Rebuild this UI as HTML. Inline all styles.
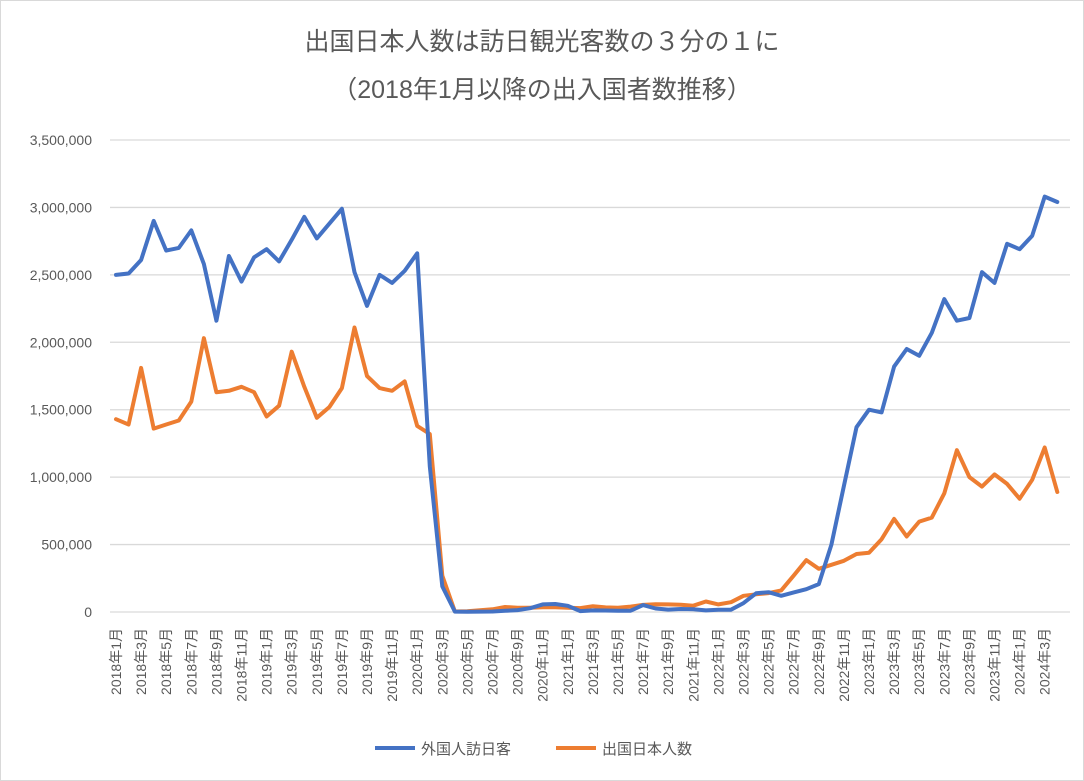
<!DOCTYPE html><html><head><meta charset="utf-8"><style>
body{margin:0;background:#fff}
svg{display:block}
text{font-family:"Liberation Sans","Noto Sans CJK JP",sans-serif;fill:#595959}
</style></head><body>
<svg id="s" width="1084" height="781" xmlns="http://www.w3.org/2000/svg">
<rect x="0.5" y="0.5" width="1083" height="780" fill="#fff" stroke="#d9d9d9"/>
<text x="542" y="50" font-size="25" text-anchor="middle">出国日本人数は訪日観光客数の３分の１に</text>
<text x="542" y="98" font-size="25" text-anchor="middle">（2018年1月以降の出入国者数推移）</text>
<g id="g"></g>
<line x1="375" y1="748" x2="415" y2="748" stroke="#4472c4" stroke-width="4"/>
<text x="421" y="754" font-size="15">外国人訪日客</text>
<line x1="556" y1="748" x2="596" y2="748" stroke="#ed7d31" stroke-width="4"/>
<text x="602" y="754" font-size="15">出国日本人数</text>
</svg>
<script>
var blue=[2.50,2.51,2.61,2.90,2.68,2.70,2.83,2.58,2.16,2.64,2.45,2.63,
2.69,2.60,2.76,2.93,2.77,2.88,2.99,2.52,2.27,2.50,2.44,2.53,
2.66,1.08,0.19,0.003,0.002,0.003,0.004,0.009,0.014,0.028,0.056,0.059,
0.046,0.007,0.012,0.011,0.010,0.010,0.051,0.026,0.018,0.022,0.021,0.012,
0.017,0.017,0.066,0.139,0.147,0.120,0.145,0.169,0.207,0.499,0.935,1.37,
1.50,1.48,1.82,1.95,1.90,2.07,2.32,2.16,2.18,2.52,2.44,2.73,
2.69,2.79,3.08,3.04];
var orange=[1.43,1.39,1.81,1.36,1.39,1.42,1.56,2.03,1.63,1.64,1.67,1.63,
1.45,1.53,1.93,1.67,1.44,1.52,1.66,2.11,1.75,1.66,1.64,1.71,
1.38,1.32,0.27,0.004,0.005,0.013,0.020,0.037,0.031,0.032,0.035,0.035,
0.031,0.029,0.043,0.034,0.031,0.040,0.053,0.057,0.056,0.054,0.047,0.078,
0.056,0.073,0.120,0.131,0.140,0.160,0.270,
0.385,0.32,0.35,0.38,0.43,0.44,0.54,0.69,0.56,0.67,0.70,0.88,1.20,1.00,0.93,1.02,0.95,0.84,0.98,1.22,0.89];
var X=function(i){return 116+i*12.55},Y=function(v){return 612-v*1e6*472/3.5e6};
var h='';
var labs=['0','500,000','1,000,000','1,500,000','2,000,000','2,500,000','3,000,000','3,500,000'];
for(var k=0;k<8;k++){var y=612-k*472/7;h+='<line x1="110" x2="1070" y1="'+y+'" y2="'+y+'" stroke="#d9d9d9" stroke-width="1.3"/>';
h+='<text x="92" y="'+(y+5)+'" font-size="14" text-anchor="end">'+labs[k]+'</text>';}
for(var i=0;i<76;i+=2){var yr=2018+Math.floor(i/12),m=i%12+1,x=X(i)+5;
h+='<text transform="translate('+x+',628) rotate(-90)" font-size="14" text-anchor="end">'+yr+'年'+m+'月</text>';}
function pl(d,c){var p=d.map(function(v,i){return X(i).toFixed(1)+','+Y(v).toFixed(1)}).join(' ');
return '<polyline points="'+p+'" fill="none" stroke="'+c+'" stroke-width="4" stroke-linejoin="round" stroke-linecap="round"/>';}
h+=pl(orange,'#ed7d31');h+=pl(blue,'#4472c4');
document.getElementById('g').innerHTML=h;
</script>
</body></html>
